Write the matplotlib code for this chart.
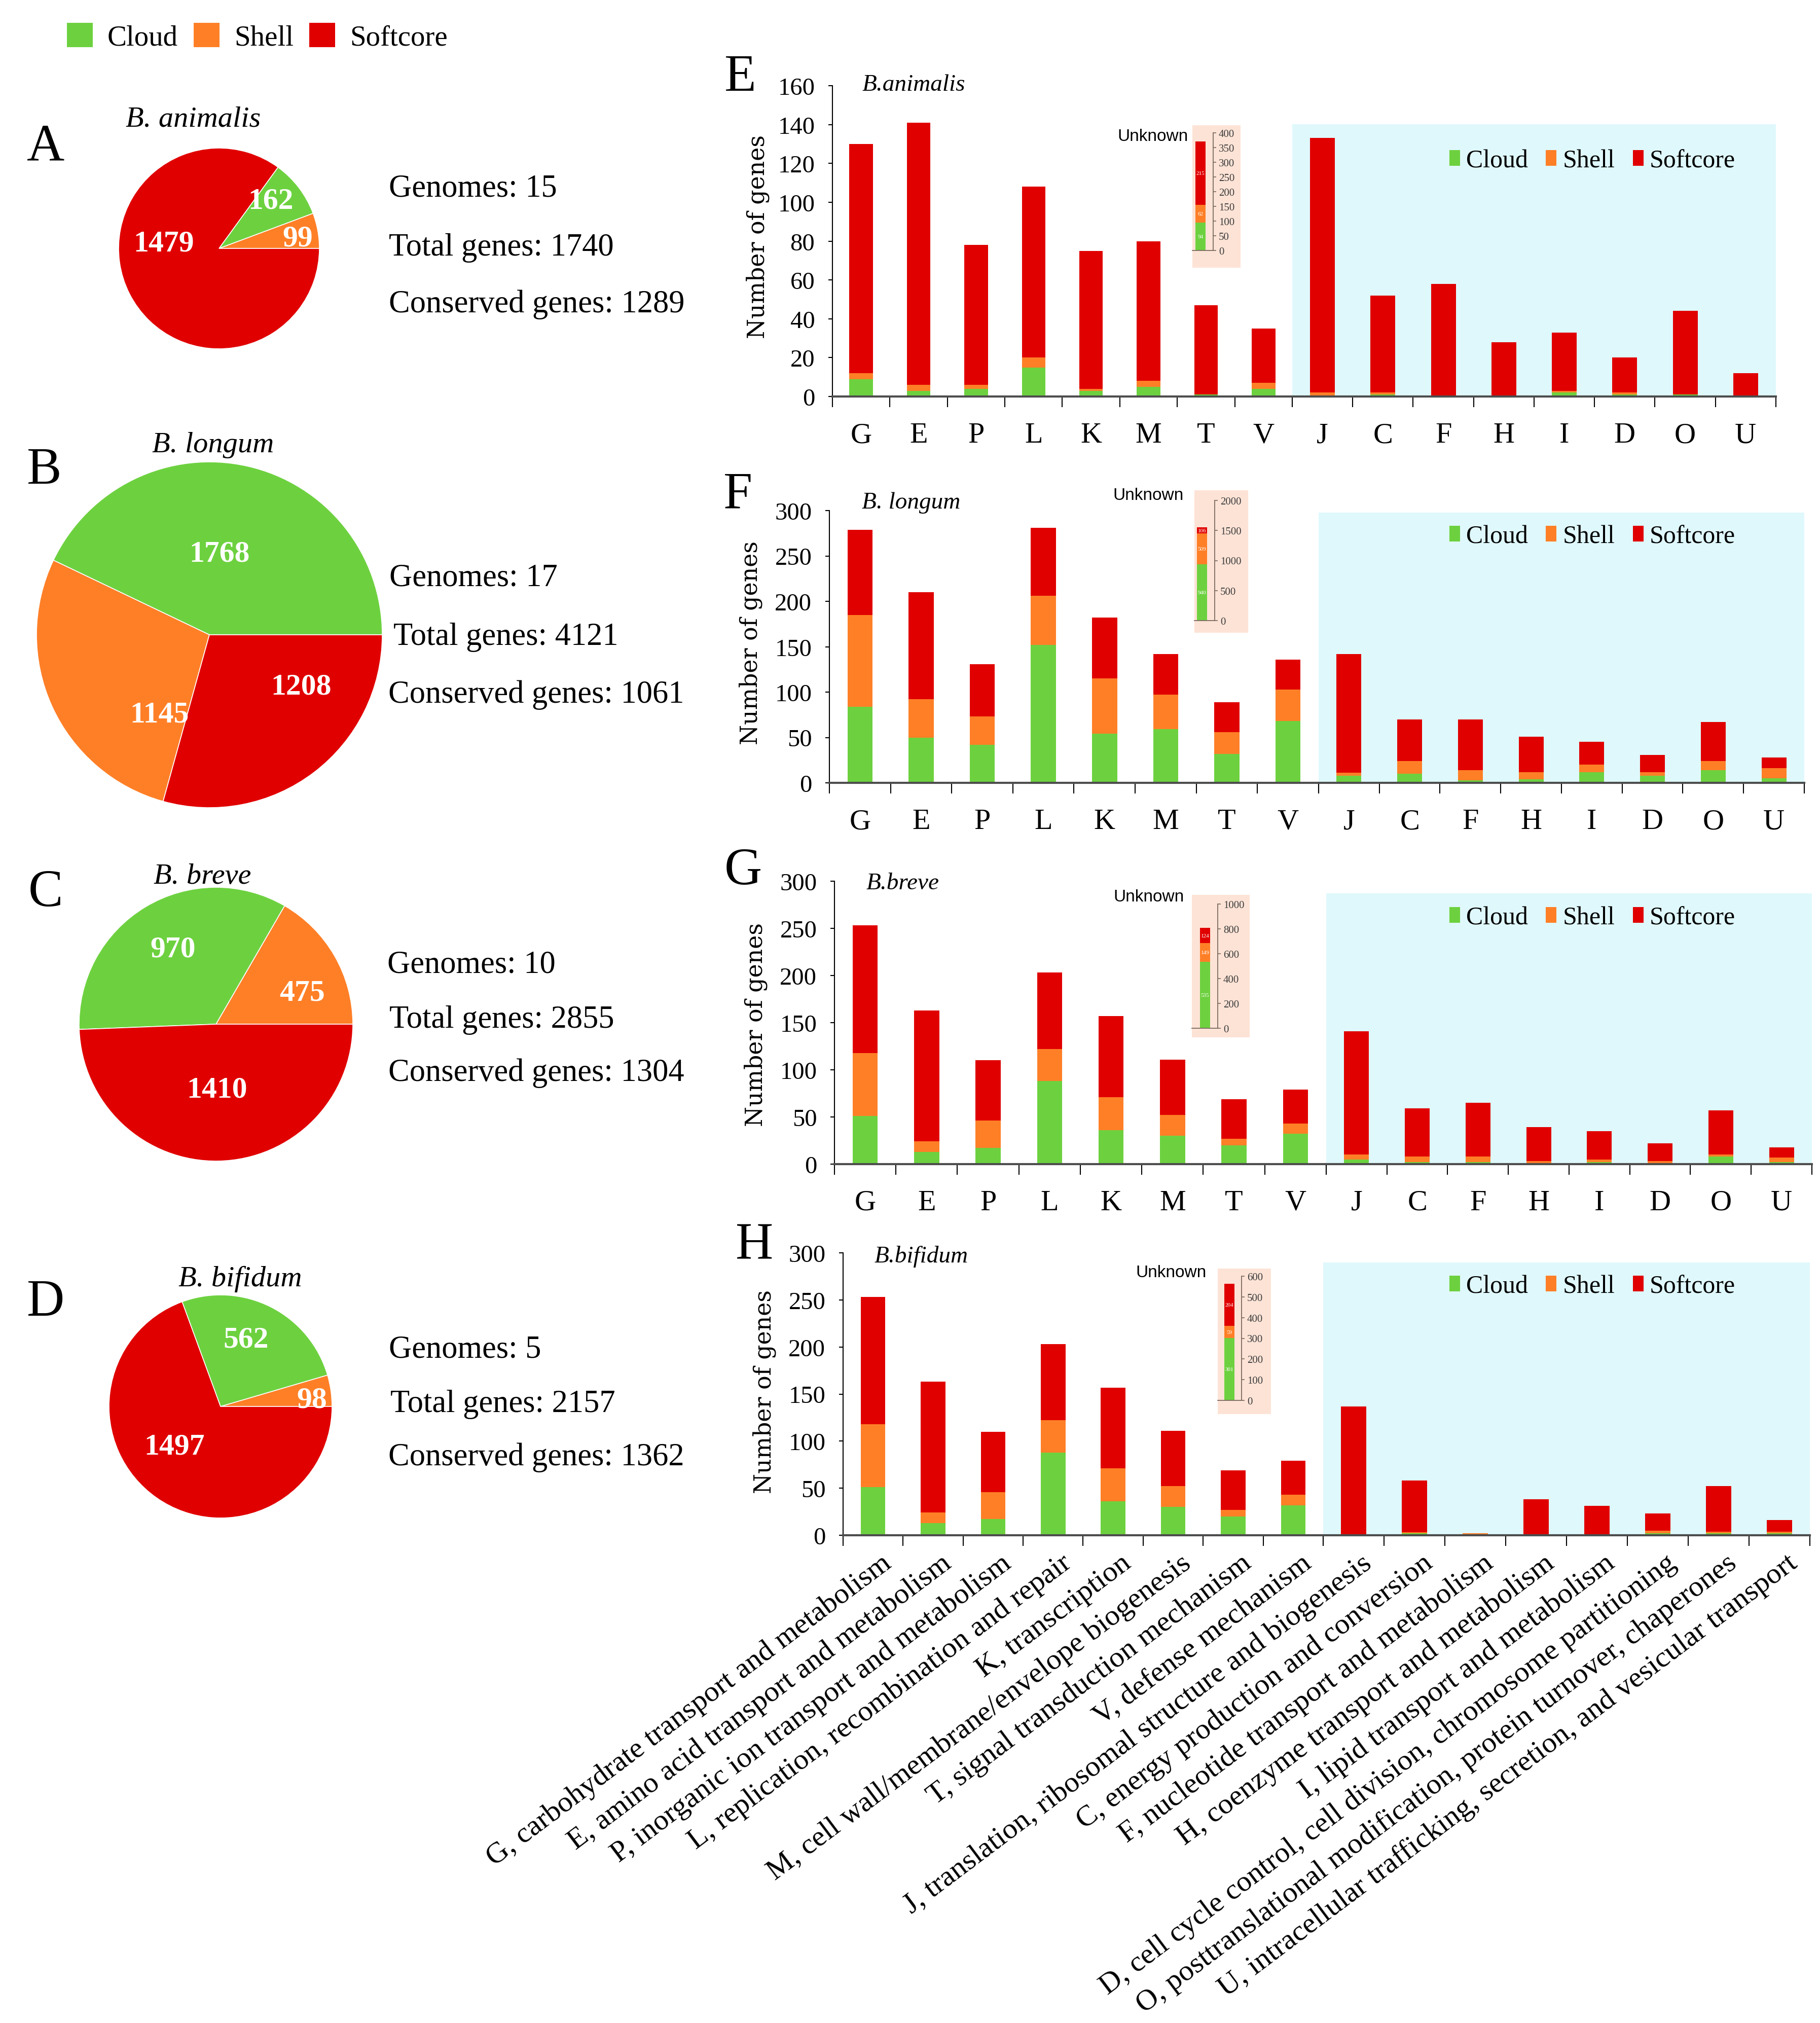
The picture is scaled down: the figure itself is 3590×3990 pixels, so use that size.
import numpy as np
import matplotlib
matplotlib.use("Agg")
import matplotlib.pyplot as plt
from matplotlib.patches import Patch
from matplotlib.transforms import ScaledTranslation

plt.rcParams['font.family'] = ['Liberation Serif', 'DejaVu Serif']

# ---------------- data ----------------
groups = ['Cloud', 'Shell', 'Softcore']
colors = ['#6DD13F', '#FF7F27', '#E00000']

pie_species = ['B. animalis', 'B. longum', 'B. breve', 'B. bifidum']
pie_letters = ['A', 'B', 'C', 'D']
pie_cloud = [162, 1768, 970, 562]
pie_shell = [99, 1145, 475, 98]
pie_softcore = [1479, 1208, 1410, 1497]
genomes = [15, 17, 10, 5]
total_genes = [1740, 4121, 2855, 2157]
conserved_genes = [1289, 1061, 1304, 1362]

cog_left = ['G', 'E', 'P', 'L', 'K', 'M', 'T', 'V']
cog_right = ['J', 'C', 'F', 'H', 'I', 'D', 'O', 'U']
cog_names_left = [
    'G, carbohydrate transport and metabolism',
    'E, amino acid transport and metabolism',
    'P, inorganic ion transport and metabolism',
    'L, replication, recombination and repair',
    'K, transcription',
    'M, cell wall/membrane/envelope biogenesis',
    'T, signal transduction mechanism',
    'V, defense mechanism',
]
cog_names_right = [
    'J, translation, ribosomal structure and biogenesis',
    'C, energy production and conversion',
    'F, nucleotide transport and metabolism',
    'H, coenzyme transport and metabolism',
    'I, lipid transport and metabolism',
    'D, cell cycle control, cell division, chromosome partitioning',
    'O, posttranslational modification, protein turnover, chaperones',
    'U, intracellular trafficking, secretion, and vesicular transport',
]

bar_letters = ['E', 'F', 'G', 'H']
bar_species = ['B.animalis', 'B. longum', 'B.breve', 'B.bifidum']

# order of values: G E P L K M T V | J C F H I D O U
animalis_cloud = [9, 3, 4, 15, 3, 5, 1, 4, 0, 1, 0, 0, 2, 1, 1, 0]
animalis_shell = [3, 3, 2, 5, 1, 3, 0, 3, 2, 1, 0, 0, 1, 1, 0, 0]
animalis_soft = [118, 135, 72, 88, 71, 72, 46, 28, 131, 50, 58, 28, 30, 18, 43, 12]

longum_cloud = [84, 50, 42, 152, 54, 59, 32, 68, 8, 10, 3, 4, 12, 8, 14, 5]
longum_shell = [101, 42, 31, 54, 61, 38, 24, 35, 3, 14, 11, 8, 8, 4, 10, 11]
longum_soft = [94, 118, 58, 75, 67, 45, 33, 33, 131, 46, 56, 39, 25, 19, 43, 12]

breve_cloud = [51, 13, 17, 88, 36, 30, 20, 32, 5, 2, 2, 1, 2, 1, 8, 2]
breve_shell = [67, 11, 29, 34, 35, 22, 7, 11, 5, 6, 6, 2, 3, 2, 2, 5]
breve_soft = [135, 139, 64, 81, 86, 59, 42, 36, 131, 51, 57, 36, 30, 19, 47, 11]

bifidum_cloud = [51, 13, 17, 88, 36, 30, 20, 32, 0, 2, 1, 0, 0, 2, 2, 2]
bifidum_shell = [67, 11, 29, 34, 35, 22, 7, 11, 0, 1, 1, 0, 0, 3, 2, 2]
bifidum_soft = [135, 139, 64, 81, 86, 59, 42, 36, 137, 55, 0, 38, 31, 18, 48, 12]

bar_data = [
    (animalis_cloud, animalis_shell, animalis_soft),
    (longum_cloud, longum_shell, longum_soft),
    (breve_cloud, breve_shell, breve_soft),
    (bifidum_cloud, bifidum_shell, bifidum_soft),
]

unknown_cloud = [94, 940, 535, 301]
unknown_shell = [62, 509, 149, 59]
unknown_soft = [215, 106, 124, 204]
unknown_ymax = [400, 2000, 1000, 600]
unknown_step = [50, 500, 200, 100]

# ---------------- layout (pixels) ----------------
W, H = 3591, 3991
fig = plt.figure(figsize=(W / 100, H / 100), dpi=100)


def box(x0, y0, x1, y1):
    return [x0 / W, 1 - y1 / H, (x1 - x0) / W, (y1 - y0) / H]


def ftext(x, y, s, **kw):
    return fig.text(x / W, 1 - y / H, s, **kw)


blue_bg = '#DFF8FC'
peach_bg = '#FDE3D6'

# top legend
handles = [Patch(facecolor=c, edgecolor='none') for c in colors]
fig.legend(handles, groups, loc='center left', bbox_to_anchor=(132 / W, 1 - 74 / H),
           ncol=3, frameon=False, fontsize=41, handlelength=0.9, handleheight=0.9,
           handletextpad=0.5, columnspacing=0.55, borderpad=0, borderaxespad=0)

# ---------------- pies ----------------
pie_centers = [(432, 491), (413, 1253), (426, 2021), (435, 2775)]
pie_radius = [198, 341, 270, 220]
pie_order = [[1, 0, 2], [0, 1, 2], [1, 0, 2], [1, 0, 2]]
pie_label_pos = [
    [(42.6, 0.70), (7.3, 0.79), (175, 0.55)],
    [(83, 0.47), (238, 0.545), (330.6, 0.61)],
    [(120, 0.63), (19.9, 0.67), (271, 0.48)],
    [(69, 0.64), (4, 0.82), (221, 0.55)],
]
pie_title_pos = [(381, 235), (420, 878), (399, 1729), (474, 2523)]
pie_letter_pos = [(90, 291), (87, 929), (90, 1762), (90, 2570)]
info_y = [(372, 489, 601), (1141, 1257, 1371), (1904, 2012, 2117), (2662, 2770, 2875)]
info_x = [(767, 767, 767), (768, 776, 766), (764, 768, 766), (767, 770, 766)]

for i in range(4):
    cx, cy = pie_centers[i]
    r = pie_radius[i]
    ax = fig.add_axes(box(cx - r, cy - r, cx + r, cy + r))
    vals = [pie_cloud[i], pie_shell[i], pie_softcore[i]]
    order = pie_order[i]
    ax.pie([vals[k] for k in order], colors=[colors[k] for k in order], startangle=0,
           counterclock=True, wedgeprops=dict(edgecolor='white', linewidth=1.2))
    ax.set_xlim(-1, 1)
    ax.set_ylim(-1, 1)
    for k in range(3):
        ang, rr = pie_label_pos[i][k]
        ax.text(rr * np.cos(np.radians(ang)), rr * np.sin(np.radians(ang)), str(vals[k]),
                ha='center', va='center', color='white', fontsize=43, fontweight='bold')
    tx, ty = pie_title_pos[i]
    ftext(tx, ty, pie_species[i], ha='center', va='center', fontsize=42, style='italic')
    lx, ly = pie_letter_pos[i]
    ftext(lx, ly, pie_letters[i], ha='center', va='center', fontsize=74)
    lines = ['Genomes: %d' % genomes[i], 'Total genes: %d' % total_genes[i],
             'Conserved genes: %d' % conserved_genes[i]]
    for s, x, y in zip(lines, info_x[i], info_y[i]):
        ftext(x, y, s, ha='left', va='center', fontsize=45)

# ---------------- bar panels ----------------
panels = [
    dict(x0=1642, xm=2549, x1=3503, top=170, bottom=783, rtop=246, ymax=160, step=20),
    dict(x0=1636, xm=2601, x1=3559, top=1008, bottom=1545, rtop=1012, ymax=300, step=50),
    dict(x0=1646, xm=2616, x1=3574, top=1739, bottom=2297, rtop=1763, ymax=300, step=50),
    dict(x0=1663, xm=2610, x1=3570, top=2472, bottom=3029, rtop=2491, ymax=300, step=50),
]
letter_pos = [(1460, 154), (1456, 977), (1466, 1719), (1488, 2459)]
species_pos = [(1802, 168), (1797, 992), (1781, 1743), (1817, 2479)]
ylabel_pos = [(1495, 467), (1481, 1268), (1491, 2021), (1508, 2745)]
unknown_pos = [(2274, 270), (2265, 978), (2266, 1770), (2310, 2511)]
legend_pos = [(3141, 318), (3141, 1059), (3141, 1811), (3141, 2538)]
inset_bg = [(2352, 248, 2447, 529), (2356, 968, 2462, 1249),
            (2351, 1766, 2465, 2047), (2402, 2503, 2507, 2790)]
inset_plot = [(2352, 2393, 263, 495), (2356, 2396, 988, 1225),
              (2351, 2402, 1784, 2029), (2402, 2449, 2518, 2763)]
inset_bar_x = [16, 15, 26, 23]

bar_w = 0.41
xs = np.arange(8)


def draw_segment(ax, cloud, shell, soft, facecolor):
    ax.set_facecolor(facecolor)
    base = np.zeros(8)
    for vals, c in zip((cloud, shell, soft), colors):
        ax.bar(xs, vals, width=bar_w, bottom=base, color=c, edgecolor='none', zorder=2)
        base = base + np.array(vals)
    ax.set_xlim(-0.5, 7.5)
    for s in ('top', 'right', 'left'):
        ax.spines[s].set_visible(False)
    ax.spines['bottom'].set_color('#4D4D4D')
    ax.spines['bottom'].set_linewidth(3)
    ax.spines['bottom'].set_zorder(3)
    ax.set_xticks(xs)
    ax.set_xticks(np.arange(-0.5, 8, 1), minor=True)
    ax.tick_params(axis='x', which='major', length=0, pad=36, labelsize=42)
    ax.tick_params(axis='x', which='minor', length=15, width=1.5, color='black', direction='out')


for i in range(4):
    p = panels[i]
    cloud, shell, soft = bar_data[i]
    axl = fig.add_axes(box(p['x0'], p['top'], p['xm'], p['bottom']))
    draw_segment(axl, cloud[:8], shell[:8], soft[:8], 'none')
    axl.spines['left'].set_visible(True)
    axl.spines['left'].set_linewidth(1.5)
    axl.set_ylim(0, p['ymax'])
    axl.set_yticks(np.arange(0, p['ymax'] + 1, p['step']))
    axl.tick_params(axis='y', length=6, width=1.5, direction='out', labelsize=35, pad=19)

    axr = fig.add_axes(box(p['xm'], p['rtop'], p['x1'], p['bottom']))
    draw_segment(axr, cloud[8:], shell[8:], soft[8:], blue_bg)
    axr.set_ylim(0, p['ymax'] * (p['bottom'] - p['rtop']) / (p['bottom'] - p['top']))
    axr.set_yticks([])

    if i < 3:
        axl.set_xticklabels(cog_left)
        axr.set_xticklabels(cog_right)
    else:
        axl.set_xticklabels([])
        axr.set_xticklabels([])
        off = ScaledTranslation(14 / 100, -28 / 100, fig.dpi_scale_trans)
        for ax, names in ((axl, cog_names_left), (axr, cog_names_right)):
            for x, name in zip(xs, names):
                ax.text(x, 0, name, transform=ax.get_xaxis_transform() + off,
                        rotation=37, rotation_mode='anchor', ha='right', va='top',
                        fontsize=42)

    lx, ly = letter_pos[i]
    ftext(lx, ly, bar_letters[i], ha='center', va='center', fontsize=74)
    sx, sy = species_pos[i]
    ftext(sx, sy, bar_species[i], ha='center', va='center', fontsize=34, style='italic')
    yx, yy = ylabel_pos[i]
    ftext(yx, yy, 'Number of genes', ha='center', va='center', rotation=90,
          fontsize=33, family='DejaVu Serif')
    ux, uy = unknown_pos[i]
    ftext(ux, uy, 'Unknown', ha='center', va='center', fontsize=24, family='Liberation Sans')
    gx, gy = legend_pos[i]
    fig.legend([Patch(facecolor=c, edgecolor='none') for c in colors], groups,
               loc='center', bbox_to_anchor=(gx / W, 1 - gy / H), ncol=3, frameon=False,
               fontsize=36, handlelength=0.42, handleheight=0.56, handletextpad=0.25,
               columnspacing=0.7, borderpad=0, borderaxespad=0)

    # inset "Unknown" bar
    bx0, by0, bx1, by1 = inset_bg[i]
    bg = fig.add_axes(box(bx0, by0, bx1, by1))
    bg.set_facecolor(peach_bg)
    bg.set_xticks([])
    bg.set_yticks([])
    for s in bg.spines.values():
        s.set_visible(False)
    px0, pax, pyt, pyb = inset_plot[i]
    ia = fig.add_axes(box(px0, pyt, pax, pyb))
    ia.set_facecolor('none')
    base = 0
    for v, c in zip((unknown_cloud[i], unknown_shell[i], unknown_soft[i]), colors):
        b = ia.bar([inset_bar_x[i]], [v], width=20, bottom=base, color=c, edgecolor='none')
        ia.bar_label(b, labels=[str(v)], label_type='center', color='white', fontsize=8)
        base += v
    ia.set_xlim(0, pax - px0)
    ia.set_ylim(0, unknown_ymax[i])
    ia.yaxis.tick_right()
    ia.set_yticks(np.arange(0, unknown_ymax[i] + 1, unknown_step[i]))
    ia.set_xticks([])
    for s in ('top', 'left'):
        ia.spines[s].set_visible(False)
    for s in ('right', 'bottom'):
        ia.spines[s].set_color('#7A6A60')
        ia.spines[s].set_linewidth(1.3)
    ia.tick_params(axis='y', length=4, width=1.2, color='#7A6A60', labelsize=15,
                   labelcolor='#3A3A3A', pad=4)

fig.savefig('out.png', dpi=100, facecolor='white')
